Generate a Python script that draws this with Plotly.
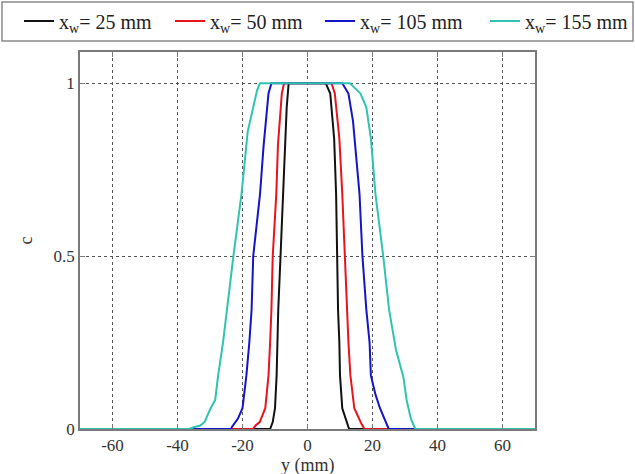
import plotly.graph_objects as go

# concentration profiles c(y), for each x_w
LABELS = ["x<sub>w</sub>= 25 mm", "x<sub>w</sub>= 50 mm",
          "x<sub>w</sub>= 105 mm", "x<sub>w</sub>= 155 mm"]
COLORS = ["#111111", "#e8141c", "#1414c8", "#2ec4b0"]

y_25 = [-70, -11.5, -10.7, -10.0, -9.5, -9.3, -9.0, -8.3, -7.5, -6.9, -6.4, -5.8,
        5.6, 7.0, 8.2, 8.8, 9.1, 9.4, 9.8, 10.0, 10.7, 12.1, 12.8, 70]
c_25 = [0, 0, 0.02, 0.06, 0.155, 0.25, 0.345, 0.5, 0.68, 0.82, 0.93, 1,
        1, 0.97, 0.84, 0.68, 0.5, 0.345, 0.25, 0.155, 0.06, 0.02, 0, 0]

y_50 = [-70, -16.8, -16.0, -14.7, -13.0, -12.0, -11.5, -11.1, -10.7, -9.6, -9.1, -7.9, -7.2,
        7.4, 8.4, 9.8, 10.7, 11.4, 12.0, 12.6, 13.2, 14.4, 16.6, 17.5, 70]
c_50 = [0, 0, 0.01, 0.02, 0.06, 0.155, 0.25, 0.345, 0.5, 0.68, 0.82, 0.97, 1,
        1, 0.97, 0.84, 0.68, 0.5, 0.345, 0.25, 0.155, 0.06, 0.015, 0, 0]

y_105 = [-70, -23.5, -23.3, -21.4, -20.0, -18.8, -17.9, -17.2, -16.7, -14.6, -13.5, -12.0, -11.1,
         10.7, 12.6, 14.0, 16.0, 16.9, 18.1, 19.1, 19.5, 20.9, 22.3, 24.2, 25.0, 70]
c_105 = [0, 0, 0.005, 0.03, 0.06, 0.155, 0.25, 0.345, 0.5, 0.68, 0.82, 0.97, 1,
         1, 0.97, 0.89, 0.68, 0.5, 0.345, 0.25, 0.155, 0.1, 0.06, 0.015, 0, 0]

y_155 = [-70, -36.5, -35.0, -33.0, -31.7, -29.8, -28.4, -27.5, -26.0, -24.8, -22.8, -20.3,
         -18.4, -16.7, -15.5, -14.6,
         13.0, 16.3, 18.1, 19.5, 20.9, 23.3, 25.1, 27.2, 29.5, 30.5, 31.8, 32.7, 33.2, 70]
c_155 = [0, 0, 0.005, 0.01, 0.02, 0.06, 0.084, 0.155, 0.25, 0.345, 0.5, 0.68,
         0.86, 0.93, 0.98, 1,
         1, 0.97, 0.93, 0.84, 0.68, 0.5, 0.345, 0.23, 0.15, 0.084, 0.03, 0.01, 0, 0]

X_TICKS = [-60, -40, -20, 0, 20, 40, 60]
X_TICK_TEXT = ["-60", "-40", "-20", "0", "20", "40", "60"]
Y_TICKS = [0, 0.5, 1]
Y_TICK_TEXT = ["0", "0.5", "1"]

W, H = 635, 474
FONT = "Liberation Serif, Times New Roman, serif"
AXIS_COLOR = "#7a7a7a"
GRID = "#555555"
TEXT = "#333333"

# one single-entry legend per curve, so the row is laid out like the original
LEGEND_LEFT_PX = [19, 170, 320, 485]

fig = go.Figure()
names = ["legend", "legend2", "legend3", "legend4"]
for i, (xs, cs, name, col) in enumerate(zip([y_25, y_50, y_105, y_155],
                                            [c_25, c_50, c_105, c_155], LABELS, COLORS)):
    fig.add_trace(go.Scatter(x=xs, y=cs, mode="lines", name=name, legend=names[i],
                             line=dict(color=col, width=2)))

legends = {}
for i, lg in enumerate(names):
    legends[lg] = dict(
        orientation="h", x=LEGEND_LEFT_PX[i] / W, xref="container",
        y=1 - 21 / H, yref="container", xanchor="left", yanchor="middle",
        bgcolor="rgba(0,0,0,0)", borderwidth=0,
        font=dict(family=FONT, size=20, color="#222222"),
        itemwidth=30,
    )

axis_common = dict(
    showline=True, linecolor=AXIS_COLOR, linewidth=1.5, mirror="ticks",
    ticks="inside", ticklen=5, tickcolor=AXIS_COLOR,
    showgrid=True, gridcolor=GRID, gridwidth=1, griddash="dot",
    zeroline=False, tickfont=dict(family=FONT, size=17, color=TEXT),
)

fig.update_xaxes(range=[-70, 70], tickvals=X_TICKS, ticktext=X_TICK_TEXT,
                 **axis_common)
fig.update_yaxes(range=[0, 1.09], tickvals=Y_TICKS, ticktext=Y_TICK_TEXT,
                 title=dict(text="c", font=dict(family=FONT, size=18, color=TEXT),
                            standoff=16),
                 **axis_common)

L, R, T, B = 80, 100, 52, 45
pw, ph = W - L - R, H - T - B

# x-axis title sits low, partly against the bottom edge as in the original
fig.add_annotation(text="y (mm)", xref="paper", yref="paper", x=0.5,
                   y=-(465 - (H - B)) / ph, yanchor="middle", showarrow=False,
                   font=dict(family=FONT, size=18, color=TEXT))

# frame around the legend row
fig.add_shape(type="rect", xref="paper", yref="paper",
              x0=(2 - L) / pw, x1=(633 - L) / pw,
              y0=(H - B - 41) / ph, y1=(H - B - 2) / ph,
              line=dict(color="#8a8a8a", width=1.5), fillcolor="rgba(0,0,0,0)")

fig.update_layout(
    width=W, height=H,
    plot_bgcolor="white", paper_bgcolor="white",
    margin=dict(l=L, r=R, t=T, b=B, autoexpand=False),
    showlegend=True,
    **legends,
)

fig.write_html("out.html", config={"displayModeBar": False},
               post_script="document.body.style.margin='0';")
